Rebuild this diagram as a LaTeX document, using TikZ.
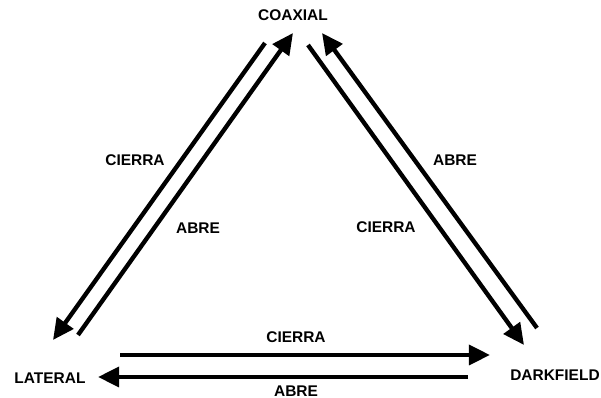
\documentclass[tikz,border=0pt]{standalone}
\usepackage{fontspec}
\setmainfont{Liberation Sans}
\usetikzlibrary{arrows.meta}

\begin{document}
\begin{tikzpicture}[x=0.025cm, y=-0.025cm,
		modo/.style = {font=\fontsize{11}{13}\selectfont\bfseries, inner sep=0pt},
		flecha/.style = {line width=3.1pt, -{Triangle[length=15pt, width=14pt]}}]
				\useasboundingbox (0, 0) rectangle (601, 398);

				% modes
				\node[modo] (coax) at (293, 15) {COAXIAL};
				\node[modo] (lat) at (50, 378) {LATERAL};
				\node[modo] (dark) at (555, 375) {DARKFIELD};

				% ends of the arrows
				\coordinate (c1) at (265, 43);  \coordinate (l1) at (53, 340);
				\coordinate (l2) at (78, 335);  \coordinate (c2) at (293, 33);
				\coordinate (c3) at (308, 45);  \coordinate (d3) at (524, 345);
				\coordinate (d4) at (537, 328); \coordinate (c4) at (322, 33);
				\coordinate (l5) at (120, 355); \coordinate (d5) at (490, 355);
				\coordinate (d6) at (468, 377); \coordinate (l6) at (98, 377);

				\draw[flecha] (c1) to (l1);
				\draw[flecha] (l2) to (c2);
				\draw[flecha] (c3) to (d3);
				\draw[flecha] (d4) to (c4);
				\draw[flecha] (l5) to (d5);
				\draw[flecha] (d6) to (l6);

				% labels
				\node[modo] (cierra1) at (135, 160) {CIERRA};
				\node[modo] (abre1) at (198, 228) {ABRE};
				\node[modo] (abre2) at (455, 160) {ABRE};
				\node[modo] (cierra2) at (386, 227) {CIERRA};
				\node[modo] (cierra3) at (296, 337) {CIERRA};
				\node[modo] (abre3) at (296, 391) {ABRE};
			\end{tikzpicture}
\end{document}
